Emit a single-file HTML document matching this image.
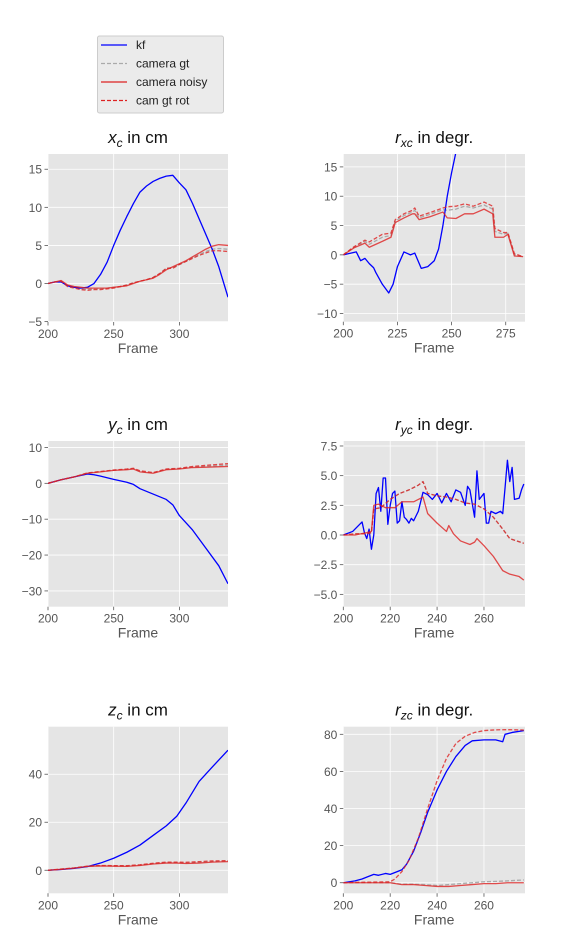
<!DOCTYPE html>
<html><head><meta charset="utf-8">
<style>
body{margin:0;background:#fff;width:573px;height:943px;overflow:hidden;font-family:"Liberation Sans","DejaVu Sans",sans-serif}
svg{display:block}
</style></head>
<body>
<svg id="fig" width="573" height="943" viewBox="0 0 573 943" xmlns="http://www.w3.org/2000/svg">
  <defs></defs>
  <g>
    <rect x="97.5" y="36" width="126" height="77" rx="2" fill="#ebebeb" stroke="#cccccc"/>
    <g><line x1="101" y1="45" x2="127" y2="45" stroke="#0000ff" stroke-width="1.3"/><text x="136" y="49" font-size="12" fill="#222">kf</text></g>
    <g><line x1="101" y1="63.5" x2="127" y2="63.5" stroke="#aaaaaa" stroke-width="1.3" stroke-dasharray="4,2"/><text x="136" y="67.5" font-size="12" fill="#222">camera gt</text></g>
    <g><line x1="101" y1="82" x2="127" y2="82" stroke="#dd2222" stroke-width="1.3"/><text x="136" y="86" font-size="12" fill="#222">camera noisy</text></g>
    <g><line x1="101" y1="100.5" x2="127" y2="100.5" stroke="#dd2222" stroke-width="1.3" stroke-dasharray="4,2"/><text x="136" y="104.5" font-size="12" fill="#222">cam gt rot</text></g>
  </g>
</svg>
<script>
// ---- x_c ----
const xcFrames = [200,205,210,215,220,225,230,235,240,245,250,255,260,265,270,275,280,285,290,295,300,305,310,315,320,325,330,337];
const xcKf     = [0,0.2,0.2,-0.3,-0.5,-0.6,-0.5,0,1.2,2.8,5,7,8.8,10.5,12,12.8,13.4,13.8,14.1,14.2,13.2,12.3,10.5,8.5,6.5,4.5,2.2,-1.8];
const xcNoisy  = [0,0.2,0.4,-0.2,-0.4,-0.5,-0.6,-0.6,-0.6,-0.6,-0.5,-0.4,-0.3,0,0.3,0.5,0.7,1.2,1.8,2.2,2.6,3.0,3.5,4.0,4.5,4.9,5.1,5.0];
const xcGt     = [0,0.2,0.3,-0.3,-0.5,-0.7,-0.8,-0.7,-0.7,-0.6,-0.5,-0.4,-0.2,0.1,0.3,0.5,0.8,1.3,2.0,2.1,2.5,2.9,3.4,3.8,4.2,4.5,4.6,4.5];
const xcRot    = [0,0.2,0.3,-0.4,-0.6,-0.8,-0.9,-0.8,-0.8,-0.7,-0.6,-0.4,-0.2,0.1,0.3,0.5,0.8,1.3,2.0,2.0,2.5,2.9,3.3,3.7,4.0,4.3,4.3,4.2];
const xcXTicks = [200,250,300];
const xcYTicks = [-5,0,5,10,15];
// ---- r_xc ----
const rxKfFrames = [200,206,208,210,212,214,215,218,221,223,225,228,231,233,236,239,242,244,246,248,250,252,254];
const rxKf       = [0,0.5,-1,-0.6,-1.5,-2.2,-3,-5,-6.5,-5,-2,0.5,0,0.3,-2.3,-2,-1,1,5,10,14,17.5,22];
const rxFrames   = [200,205,210,212,218,222,224,228,232,233,235,240,246,248,252,256,260,265,269,270,274,276,279,283];
const rxNoisy    = [0,1.2,2,1.3,2.3,3,5.5,6.3,7,7,6,6.5,7.3,6.3,6.2,7,7,7.8,7,3,3,3.5,-0.2,-0.3];
const rxGt       = [0,1.3,2.3,1.8,3,3.3,5.8,6.7,7.3,7.6,6.3,6.9,7.7,7.6,7.8,8.3,8,8.5,7.8,4,3.5,3.7,0,-0.3];
const rxRot      = [0,1.4,2.5,2.2,3.5,3.7,6,7,7.6,8,6.6,7.2,8,8.2,8.3,8.7,8.3,9,8.3,4.5,3.8,3.8,0.2,-0.3];
const rxXTicks = [200,225,250,275];
const rxYTicks = [-10,-5,0,5,10,15];
// ---- y_c ----
const ycKfFrames = [200,210,220,230,235,240,250,260,265,270,280,290,295,300,310,320,330,337];
const ycKf       = [0,1,1.8,2.6,2.4,2,1.1,0.3,-0.3,-1.5,-3,-4.5,-6,-9,-13,-18,-23,-28];
const ycFrames   = [200,210,220,230,240,250,260,265,270,280,290,300,310,320,337];
const ycNoisy    = [0,1,1.8,2.8,3.2,3.6,3.8,4,3.2,2.8,3.8,4,4.4,4.5,4.7];
const ycGt       = [0,1,1.8,2.85,3.25,3.65,3.9,4.1,3.3,2.9,3.9,4.1,4.5,4.7,5.1];
const ycRot      = [0,1,1.8,2.9,3.3,3.7,4,4.2,3.5,3,4,4.2,4.7,5,5.5];
const ycXTicks = [200,250,300];
const ycYTicks = [-30,-20,-10,0,10];
// ---- r_yc ----
const ryKfFrames = [200,204,208,209,210,211,212,213,214,215,216,217,218,219,220,221,222,223,224,225,226,227,228,229,230,232,234,236,238,240,242,244,246,248,250,252,253,254,256,257,258,260,261,262,263,265,267,268,269,270,271,272,273,275,276,277];
const ryKf       = [0,0.3,1.1,0.2,-0.3,0.5,-1.2,0,3.5,4,2,4.8,4.8,0.9,2.5,3.5,3.7,1,1.2,2.8,1.5,1.3,1.0,1.4,1.2,2,3.6,3.4,3,3.5,2.7,3.5,2.8,3.8,3.6,2.5,4.1,3.8,1.5,5.4,3,3.5,1,1,2,1.8,2,1.8,4,6.3,4.5,5.7,3.0,3.1,3.8,4.3];
const ryFrames   = [200,205,210,212,213,215,218,222,225,230,234,236,240,244,245,247,250,254,256,257,260,264,268,271,275,277];
const ryNoisy    = [0,0,0.2,0.3,2.5,2.6,2.3,2.3,2.8,2.8,3.2,1.8,1.0,0.3,0.8,0.1,-0.5,-0.8,-0.6,-0.3,-0.9,-1.8,-3,-3.3,-3.5,-3.8];
const ryRotFrames= [200,205,210,212,213,216,220,224,228,232,234,236,240,244,248,252,256,260,264,268,271,274,277];
const ryRot      = [0,0.1,0.1,0.2,2.2,2.3,3,3.5,3.8,4.2,4.5,3.5,3.3,3.2,3.0,2.7,2.6,2.2,1.5,0.5,-0.3,-0.5,-0.7];
const ryGt       = [0,0.1,0.1,0.2,2.2,2.3,3,3.5,3.8,4.2,4.5,3.5,3.3,3.2,3.0,2.7,2.6,2.2,1.5,0.5,-0.3,-0.5,-0.7];
const ryXTicks = [200,220,240,260];
const ryYTicks = [-5,-2.5,0,2.5,5,7.5];
// ---- z_c ----
const zcKfFrames = [200,210,220,230,240,250,260,270,280,290,298,305,315,325,337];
const zcKf       = [0,0.3,0.8,1.5,3,5,7.5,10.5,14.5,18.5,22.5,28,37,43,50];
const zcFrames   = [200,210,220,230,240,250,260,270,280,290,298,305,315,325,337];
const zcNoisy    = [0,0.4,0.9,1.6,1.8,1.7,1.6,2,2.6,3,3,2.8,3,3.4,3.6];
const zcGt       = [0,0.45,0.95,1.65,1.9,1.8,1.75,2.1,2.75,3.2,3.2,3,3.3,3.6,3.8];
const zcRot      = [0,0.5,1,1.7,2,1.9,1.9,2.3,2.9,3.4,3.4,3.3,3.6,3.9,4];
const zcXTicks = [200,250,300];
const zcYTicks = [0,20,40];
// ---- r_zc ----
const rzKfFrames = [200,205,208,210,213,215,218,220,223,225,227,230,233,236,240,244,248,252,255,260,265,268,269,272,277];
const rzKf       = [0,1,2,3,4.5,4,5,4.5,6,7,10,17,27,38,50,60,68,74,76.5,77,77,76,80,81,82];
const rzRotFrames= [200,205,210,215,220,222,225,228,232,236,240,244,248,252,256,260,265,270,277];
const rzRot      = [0,0.2,0.3,0.4,0.5,2,6,12,24,40,55,67,75,79,81,82,82.4,82.5,82.3];
const rzFrames   = [200,205,210,215,220,225,230,235,240,245,250,255,260,265,270,277];
const rzNoisy    = [0,0,0,0,0,-1,-1,-1.5,-2,-2,-1.5,-1,-0.5,-0.5,0,0];
const rzGt       = [0,0,0,0,0,-0.8,-0.8,-1,-1.5,-1,-0.5,0,0.5,0.7,1,1.5];
const rzXTicks = [200,220,240,260];
const rzYTicks = [0,20,40,60,80];

const NS = "http://www.w3.org/2000/svg";
const fig = document.getElementById('fig');
const defs = fig.querySelector('defs');
function mk(tag, attrs, parent){ const e=document.createElementNS(NS,tag); for(const k in attrs) e.setAttribute(k,attrs[k]); (parent||fig).appendChild(e); return e; }
function fmt(v){ const s = (Math.abs(v%1)>1e-9)? v.toFixed(1) : String(v); return s.replace('-', '\u2212'); }

let clipId=0;
function plot(cfg){
  const {x0,x1,y0,y1,xmin,xmax,ymin,ymax,name,title,sub,unit,xticks,yticks,yfmt,series} = cfg;
  const sx = v => x0 + (v-xmin)/(xmax-xmin)*(x1-x0);
  const sy = v => y1 - (v-ymin)/(ymax-ymin)*(y1-y0);
  const g = mk('g',{});
  
  
  const bg = mk('rect',{x:x0,y:y0,width:x1-x0,height:y1-y0,fill:'#e5e5e5'},g);
  
  
  xticks.forEach(t=>{
    const X=sx(t);
    const gl = mk('line',{x1:X,x2:X,y1:y0,y2:y1,stroke:'#ffffff','stroke-width':0.8},g);
    
    
    mk('line',{x1:X,x2:X,y1:y1,y2:y1+3.5,stroke:'#555','stroke-width':0.8},g);
    const tl = mk('text',{x:X,y:y1+16,'text-anchor':'middle','font-size':12,fill:'#555'},g);
    tl.textContent = fmt(t);
    
    
  });
  yticks.forEach(t=>{
    const Y=sy(t);
    const gl = mk('line',{x1:x0,x2:x1,y1:Y,y2:Y,stroke:'#ffffff','stroke-width':0.8},g);
    
    
    mk('line',{x1:x0-3.5,x2:x0,y1:Y,y2:Y,stroke:'#555','stroke-width':0.8},g);
    const tl = mk('text',{x:x0-6,y:Y+4.5,'text-anchor':'end','font-size':12,fill:'#555'},g);
    tl.textContent = yfmt ? t.toFixed(1).replace('-', '\u2212') : fmt(t);
    
    
  });
  const cid='clip'+(clipId++);
  const cp = mk('clipPath',{id:cid},defs);
  mk('rect',{x:x0,y:y0,width:x1-x0,height:y1-y0},cp);
  const lines = mk('g',{'clip-path':'url(#'+cid+')'},g);
  series.forEach(s=>{
    const d = s.f.map((f,i)=>(i?'L':'M')+sx(f).toFixed(2)+','+sy(s.v[i]).toFixed(2)).join('');
    const p = mk('path',{d:d,fill:'none',stroke:s.c,'stroke-width':1.3,'stroke-opacity':s.o||1,'stroke-dasharray':s.dash||'none','stroke-linejoin':'round'},lines);
    
    
  });
  const tt = mk('text',{x:(x0+x1)/2,y:y0-11,'text-anchor':'middle','font-size':17,fill:'#111'},g);
  const a = mk('tspan',{'font-style':'italic'},tt); a.textContent=title;
  const b = mk('tspan',{'font-style':'italic','font-size':12,dy:4},tt); b.textContent=sub;
  const c = mk('tspan',{dy:-4},tt); c.textContent=' in '+unit;
  
  
  const xl = mk('text',{x:(x0+x1)/2,y:y1+31,'text-anchor':'middle','font-size':14,fill:'#555'},g);
  xl.textContent='Frame';
  
  
}
const BL='#0000ff', RD='#dd2222', GR='#aaaaaa';
function ser(kfF,kf,gtF,gt,nF,noisy,rF,rot){
  return [
    {n:'camera-gt',f:gtF,v:gt,c:GR,dash:'4,2'},
    {n:'kf',f:kfF,v:kf,c:BL},
    {n:'camera-noisy',f:nF,v:noisy,c:RD,o:0.8},
    {n:'cam-gt-rot',f:rF,v:rot,c:RD,o:0.8,dash:'4,2'}
  ];
}
plot({x0:48,x1:228,y0:154,y1:322,xmin:200,xmax:337,ymin:-5.05,ymax:17,name:'xc',title:'x',sub:'c',unit:'cm',xticks:xcXTicks,yticks:xcYTicks,
  series:ser(xcFrames,xcKf,xcFrames,xcGt,xcFrames,xcNoisy,xcFrames,xcRot)});
plot({x0:343.3,x1:525,y0:154,y1:321.7,xmin:200,xmax:283.9,ymin:-11.4,ymax:17.2,name:'rxc',title:'r',sub:'xc',unit:'degr.',xticks:rxXTicks,yticks:rxYTicks,
  series:ser(rxKfFrames,rxKf,rxFrames,rxGt,rxFrames,rxNoisy,rxFrames,rxRot)});
plot({x0:48,x1:228,y0:441,y1:606.7,xmin:200,xmax:337,ymin:-34.4,ymax:11.8,name:'yc',title:'y',sub:'c',unit:'cm',xticks:ycXTicks,yticks:ycYTicks,
  series:ser(ycKfFrames,ycKf,ycFrames,ycGt,ycFrames,ycNoisy,ycFrames,ycRot)});
plot({x0:343.3,x1:525,y0:441,y1:606.7,xmin:200,xmax:277.5,ymin:-6.04,ymax:7.92,name:'ryc',title:'r',sub:'yc',unit:'degr.',xticks:ryXTicks,yticks:ryYTicks,yfmt:true,
  series:ser(ryKfFrames,ryKf,ryRotFrames,ryGt,ryFrames,ryNoisy,ryRotFrames,ryRot)});
plot({x0:48,x1:228,y0:726.7,y1:893.3,xmin:200,xmax:337,ymin:-9.6,ymax:59.8,name:'zc',title:'z',sub:'c',unit:'cm',xticks:zcXTicks,yticks:zcYTicks,
  series:ser(zcKfFrames,zcKf,zcFrames,zcGt,zcFrames,zcNoisy,zcFrames,zcRot)});
plot({x0:343.3,x1:525,y0:726.7,y1:893.3,xmin:200,xmax:277.5,ymin:-5.7,ymax:84.1,name:'rzc',title:'r',sub:'zc',unit:'degr.',xticks:rzXTicks,yticks:rzYTicks,
  series:ser(rzKfFrames,rzKf,rzFrames,rzGt,rzFrames,rzNoisy,rzRotFrames,rzRot)});
</script>
</body></html>
